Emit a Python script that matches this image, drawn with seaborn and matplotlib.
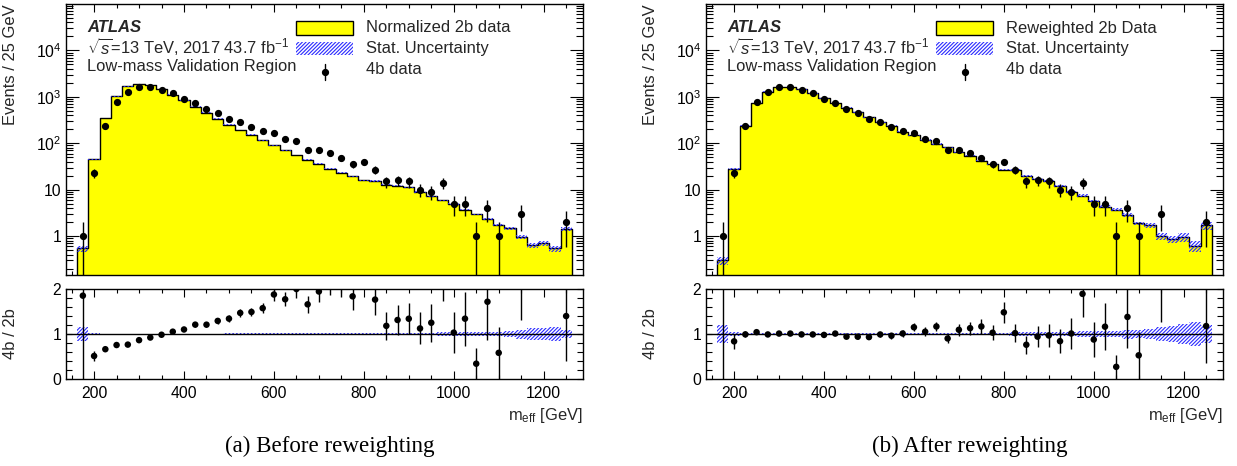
import numpy as np
import pandas as pd
import matplotlib
matplotlib.use("Agg")
import matplotlib.pyplot as plt
import seaborn as sns
from matplotlib.patches import Rectangle
from matplotlib.lines import Line2D
from matplotlib.ticker import MultipleLocator, LogLocator, NullFormatter, FixedLocator

# ---------------- data ----------------
meff = [175, 200, 225, 250, 275, 300, 325, 350, 375, 400, 425, 450, 475, 500,
        525, 550, 575, 600, 625, 650, 675, 700, 725, 750, 775, 800, 825, 850,
        875, 900, 925, 950, 975, 1000, 1025, 1050, 1075, 1100, 1125, 1150,
        1175, 1200, 1225, 1250]

data_4b = [1, 23, 235, 770, 1280, 1640, 1640, 1436, 1180, 920, 743, 553, 439, 338,
           282, 228, 181, 169, 124, 112, 73, 70, 61, 49, 36, 40, 27, 15,
           16, 15, 10, 9, 14, 5, 5, 1, 4, 1, 0, 3,
           0, 0, 0, 2]

bkg_before = [0.54, 45, 355, 1020, 1675, 1900, 1780, 1460, 1122, 836, 615, 458, 340, 252,
              192, 153, 115, 90, 70, 56, 44, 36, 28.5, 23, 19.6, 15.8, 15.3, 12.7,
              12.2, 11.2, 8.9, 7.2, 5.9, 4.85, 3.73, 2.94, 2.33, 1.72, 1.46, 0.97,
              0.64, 0.70, 0.54, 1.43]

bkg_after = [0.30, 27.5, 237, 740, 1293, 1624, 1624, 1450, 1192, 939, 736, 588, 467, 363,
             285, 237, 179, 147, 118, 96, 81, 64, 54, 42, 35, 27, 26.5, 19.7,
             17, 15.5, 11.9, 8.9, 7.4, 5.7, 4.3, 3.7, 2.9, 1.9, 1.69, 1.0,
             0.85, 0.94, 0.62, 1.70]

unc_before = [0.15, 0.03, 0.01, 0.01, 0.01, 0.01, 0.01, 0.01, 0.01, 0.01, 0.01, 0.01, 0.01, 0.015,
              0.015, 0.015, 0.015, 0.02, 0.02, 0.02, 0.02, 0.02, 0.02, 0.02, 0.02, 0.03, 0.03, 0.03,
              0.03, 0.03, 0.03, 0.03, 0.04, 0.04, 0.04, 0.04, 0.05, 0.05, 0.06, 0.10,
              0.13, 0.14, 0.15, 0.08]

unc_after = [0.20, 0.05, 0.02, 0.02, 0.02, 0.02, 0.02, 0.02, 0.02, 0.02, 0.02, 0.02, 0.02, 0.02,
             0.02, 0.02, 0.02, 0.03, 0.03, 0.03, 0.03, 0.03, 0.03, 0.03, 0.03, 0.03, 0.05, 0.05,
             0.05, 0.05, 0.05, 0.05, 0.07, 0.07, 0.07, 0.07, 0.10, 0.08, 0.12, 0.16,
             0.18, 0.22, 0.27, 0.20]

bkg_labels = ["Normalized 2b data", "Reweighted 2b Data"]
captions = ["(a) Before reweighting", "(b) After reweighting"]
ytick_vals = [1, 10, 100, 1000, 10000]
ytick_labels = ["1", "10", r"$10^{2}$", r"$10^{3}$", r"$10^{4}$"]
xtick_vals = [200, 400, 600, 800, 1000, 1200]
ratio_ticks = [0, 1, 2]

# ---------------- style ----------------
sns.set_theme(style="ticks")
plt.rcParams["font.family"] = ["Liberation Sans", "DejaVu Sans"]
plt.rcParams["mathtext.fontset"] = "custom"
plt.rcParams["mathtext.rm"] = "Liberation Sans"
plt.rcParams["mathtext.it"] = "Liberation Sans:italic"
plt.rcParams["mathtext.bf"] = "Liberation Sans:bold"
plt.rcParams["hatch.linewidth"] = 0.8
plt.rcParams["axes.linewidth"] = 1.0

BLUE = "#2a2aff"
YELLOW = "#ffff00"
HATCH = "/////////"
W, H = 1237, 466
FS = 11.9
TFS = 11.3


def rect(x0, x1, y0, y1):
    return [x0 / W, 1 - y1 / H, (x1 - x0) / W, (y1 - y0) / H]


fig = plt.figure(figsize=(W / 100, H / 100), dpi=100)

centers = np.array(meff, dtype=float)
edges = [c - 12.5 for c in meff] + [meff[-1] + 12.5]
d4 = np.array(data_4b, dtype=float)

for i, (bkg_list, unc_list) in enumerate([(bkg_before, unc_before), (bkg_after, unc_after)]):
    off = 640 * i
    bkg = np.array(bkg_list, dtype=float)
    unc = np.array(unc_list, dtype=float)
    ax = fig.add_axes(rect(66 + off, 583 + off, 4, 275))
    axr = fig.add_axes(rect(66 + off, 583 + off, 289, 379))

    # ---------- main panel ----------
    ax.set_yscale("log")
    df = pd.DataFrame({"meff": centers, "w": bkg})
    sns.histplot(data=df, x="meff", weights="w", bins=edges, element="step",
                 fill=True, color=YELLOW, alpha=1.0, edgecolor="black",
                 linewidth=1.0, ax=ax, zorder=1)
    ax.bar(centers, 2 * bkg * unc, bottom=bkg * (1 - unc), width=25,
           facecolor="none", edgecolor=BLUE, hatch=HATCH, linewidth=0, zorder=2)
    m = d4 > 0
    lo = np.minimum(np.sqrt(d4[m]), d4[m] - 1e-4)
    hi = np.sqrt(d4[m])
    ax.errorbar(centers[m], d4[m], yerr=[lo, hi], fmt="o", color="black",
                ms=4.2, elinewidth=1.0, capsize=0, zorder=3)
    ax.set_xlim(137.5, 1287.5)
    ax.set_ylim(0.145, 1e5)
    ax.set_yticks(ytick_vals, labels=ytick_labels)
    ax.yaxis.set_minor_locator(LogLocator(base=10, subs=np.arange(2, 10), numticks=30))
    ax.yaxis.set_minor_formatter(NullFormatter())
    ax.xaxis.set_major_locator(FixedLocator(xtick_vals))
    ax.xaxis.set_minor_locator(MultipleLocator(50))
    ax.tick_params(axis="x", which="both", labelbottom=False)
    ax.tick_params(which="both", direction="in", top=True, right=True, colors="black",
                   labelsize=TFS, width=0.8)
    ax.tick_params(axis="y", which="major", length=9.5)
    ax.tick_params(axis="y", which="minor", length=4.8)
    ax.tick_params(axis="x", which="major", length=5.5)
    ax.tick_params(axis="x", which="minor", length=2.8)
    ax.set_xlabel("")
    ax.set_ylabel("Events / 25 GeV", loc="top", fontsize=FS)
    ax.yaxis.set_label_coords(-48 / 517, 1.0)
    for s in ax.spines.values():
        s.set_color("black")

    # text block
    ax.text(21 / 517, (275 - 27) / 271, "ATLAS", transform=ax.transAxes,
            fontsize=12, fontweight="bold", fontstyle="italic", va="center", ha="left")
    ax.text(21 / 517, (275 - 47) / 271, r"$\sqrt{s}$=13 TeV, 2017 43.7 fb$^{-1}$",
            transform=ax.transAxes, fontsize=FS, va="center", ha="left")
    ax.text(21 / 517, (275 - 66) / 271, "Low-mass Validation Region",
            transform=ax.transAxes, fontsize=FS, va="center", ha="left")

    # legend (drawn by hand in axes fraction)
    bx0, bx1 = (296 - 66) / 517, (353 - 66) / 517
    ax.add_patch(Rectangle((bx0, (275 - 35) / 271), bx1 - bx0, 14 / 271,
                           transform=ax.transAxes, facecolor=YELLOW,
                           edgecolor="black", linewidth=1.0, zorder=5))
    ax.add_patch(Rectangle((bx0, (275 - 55) / 271), bx1 - bx0, 13 / 271,
                           transform=ax.transAxes, facecolor="none",
                           edgecolor=BLUE, hatch=HATCH, linewidth=0, zorder=5))
    mx = (325 - 66) / 517
    ax.add_line(Line2D([mx, mx], [(275 - 80) / 271, (275 - 64) / 271],
                       transform=ax.transAxes, color="black", lw=1.0, zorder=5))
    ax.add_line(Line2D([mx], [(275 - 72) / 271], marker="o", ms=4.2, color="black",
                       transform=ax.transAxes, zorder=6))
    tx = (366 - 66) / 517
    ax.text(tx, (275 - 28) / 271, bkg_labels[i], transform=ax.transAxes,
            fontsize=FS, va="center", ha="left")
    ax.text(tx, (275 - 48) / 271, "Stat. Uncertainty", transform=ax.transAxes,
            fontsize=FS, va="center", ha="left")
    ax.text(tx, (275 - 70) / 271, "4b data", transform=ax.transAxes,
            fontsize=FS, va="center", ha="left")

    # ---------- ratio panel ----------
    ones = np.ones_like(bkg)
    axr.bar(centers, 2 * unc, bottom=ones - unc, width=25, facecolor="none",
            edgecolor=BLUE, hatch=HATCH, linewidth=0, zorder=1)
    axr.axhline(1.0, color="black", lw=1.0, zorder=2)
    ratio = d4[m] / bkg[m]
    rerr = np.sqrt(d4[m]) / bkg[m]
    rdf = pd.DataFrame({"meff": centers[m], "ratio": ratio})
    axr.errorbar(centers[m], ratio, yerr=rerr, fmt="none", ecolor="black",
                 elinewidth=1.0, capsize=0, zorder=3)
    sns.scatterplot(data=rdf, x="meff", y="ratio", color="black", s=22,
                    edgecolor="none", ax=axr, zorder=4)
    axr.set_xlim(137.5, 1287.5)
    axr.set_ylim(0, 2)
    axr.set_yticks(ratio_ticks)
    axr.yaxis.set_minor_locator(MultipleLocator(0.2))
    axr.xaxis.set_major_locator(FixedLocator(xtick_vals))
    axr.xaxis.set_minor_locator(MultipleLocator(50))
    axr.tick_params(which="both", direction="in", top=True, right=True, colors="black",
                    labelsize=TFS, width=0.8)
    axr.tick_params(axis="y", which="both", length=4.0)
    axr.tick_params(axis="x", which="major", length=5.5)
    axr.tick_params(axis="x", which="minor", length=2.8)
    axr.tick_params(axis="x", which="major", pad=5)
    axr.set_ylabel("4b / 2b", fontsize=FS)
    axr.yaxis.set_label_coords(-48 / 517, 0.5)
    axr.set_xlabel(r"m$_{\rm eff}$ [GeV]", loc="right", fontsize=FS)
    axr.xaxis.set_label_coords(1.0, -27 / 90)
    for s in axr.spines.values():
        s.set_color("black")

    fig.text((330 + off) / W, 1 - 446 / H, captions[i], family="Liberation Serif",
             fontsize=16.6, ha="center", va="center", color="black")

fig.savefig("out.png", dpi=100)
